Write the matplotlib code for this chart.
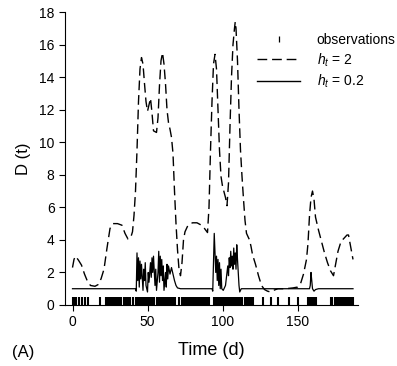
import numpy as np
import matplotlib
matplotlib.use('Agg')
import matplotlib.pyplot as plt
from matplotlib.lines import Line2D

plt.rcParams['font.family'] = ['Liberation Sans', 'DejaVu Sans']
plt.rcParams['mathtext.fontset'] = 'custom'
plt.rcParams['mathtext.it'] = 'Liberation Sans:italic'
plt.rcParams['mathtext.rm'] = 'Liberation Sans'

# h_t = 2 (dashed)
t_h2 = [0, 1, 2, 4, 6, 8, 10, 12, 15, 17, 19, 21, 23, 25, 27, 30, 33, 35, 37, 39,
        40, 41, 42, 43, 44, 45, 46, 47, 48, 49, 50, 51, 52, 53, 54, 56, 57, 58, 59, 60,
        61, 62, 63, 64, 65, 66, 67, 68, 69, 70, 71, 72, 73, 74, 75, 77, 80, 83, 86, 88,
        90, 91, 92, 93, 94, 95, 96, 97, 98, 99, 100, 102, 103, 104, 105, 106, 107, 108, 108.5, 109,
        110, 111, 112, 113, 114, 115, 116, 117, 118, 119, 120, 122, 124, 126, 128, 130, 132, 134, 137, 142,
        147, 150, 152, 154, 156, 157, 158, 159, 160, 161, 162, 164, 166, 168, 170, 172, 174, 175, 177, 179,
        181, 183, 184, 185, 186, 187]
d_h2 = [2.3, 2.8, 3.0, 2.75, 2.45, 1.9, 1.45, 1.2, 1.15, 1.25, 1.6, 2.2, 3.5, 4.7, 5.0, 5.0, 4.9, 4.4, 4.05, 4.2,
        4.5, 5.5, 7.0, 9.5, 12.5, 14.5, 15.2, 14.8, 13.6, 12.5, 11.9, 12.3, 12.7, 11.8, 10.7, 10.6, 11.5, 13.5, 15.0, 15.5,
        14.8, 13.6, 12.0, 11.2, 10.8, 10.3, 9.3, 7.0, 5.0, 3.4, 2.2, 1.8, 2.6, 4.0, 4.5, 4.9, 5.05, 5.05, 4.9, 4.7,
        4.45, 6.0, 9.5, 12.5, 14.8, 15.4, 14.5, 12.0, 9.5, 7.9, 7.3, 6.6, 6.1, 7.5, 11.0, 14.0, 16.0, 17.0, 17.4, 17.0,
        15.0, 12.0, 9.5, 7.9, 6.5, 5.2, 4.4, 4.2, 4.0, 3.6, 3.1, 2.5, 1.8, 1.2, 0.95, 0.85, 0.8, 0.9, 1.0, 1.0,
        1.05, 1.1, 1.3, 1.9, 2.8, 3.8, 5.5, 6.6, 7.0, 6.5, 5.4, 4.6, 3.9, 3.2, 2.6, 2.1, 1.8, 2.3, 3.3, 3.9,
        4.1, 4.3, 4.3, 3.8, 3.3, 2.8]

# h_t = 0.2 (solid)
t_h02 = [0, 42, 42.5, 43, 43.5, 44, 44.5, 45, 45.5, 46, 47, 47.5, 48, 48.5, 49, 50, 50.5, 51, 52, 52.5,
         53, 53.5, 54, 55, 55.5, 56, 57, 57.5, 58, 58.5, 59, 59.5, 60, 60.5, 61, 62, 62.5, 63, 63.5, 64,
         65, 66, 67, 68, 69, 70, 72, 93, 93.5, 94.5, 95.5, 96, 96.5, 97, 97.5, 98, 98.5, 99, 99.5, 100.5,
         101, 102, 103, 103.5, 104, 104.5, 105, 105.5, 106, 106.5, 107, 107.5, 108, 108.5, 109, 109.5, 110, 110.5, 111, 111.5,
         112.5, 158, 158.5, 159, 159.5, 160, 161, 162, 164, 187]
d_h02 = [1.0, 1.0, 0.85, 3.2, 1.5, 2.9, 1.1, 2.7, 1.6, 2.5, 0.9, 2.2, 1.5, 2.6, 1.2, 0.8, 2.0, 1.4, 2.6, 1.7,
         2.9, 2.0, 3.0, 1.2, 2.2, 0.9, 2.0, 3.3, 1.4, 3.0, 1.8, 2.8, 1.5, 2.4, 0.9, 2.0, 1.1, 2.5, 1.6, 2.4,
         1.9, 2.3, 1.9, 1.5, 1.2, 1.05, 1.0, 1.0, 0.85, 4.4, 2.0, 3.0, 1.5, 2.8, 1.2, 2.6, 1.0, 2.2, 1.0, 0.9,
         1.0, 1.2, 2.0, 2.4, 1.8, 2.9, 2.3, 3.3, 2.4, 3.0, 2.2, 3.5, 2.5, 3.2, 2.2, 3.7, 2.8, 2.0, 1.2, 0.8,
         1.0, 1.0, 1.2, 2.0, 1.5, 1.0, 0.85, 0.95, 1.0, 1.0]

# observation days (rug)
obs = [0, 1, 2, 4, 6, 8, 10, 18,
       22, 23, 24, 25, 26, 27, 28, 29, 30, 31, 32, 34, 35, 36, 37, 38, 40,
       42, 43, 44, 45, 46, 47, 48, 49, 50, 51, 52, 53, 54,
       56, 57, 58, 59, 60, 61, 62, 63, 64, 65, 66, 67, 68, 71,
       73, 74, 75, 76, 77, 78, 79, 80, 81, 82, 83, 84, 85, 86, 87, 88, 89, 90, 91,
       94, 95, 96, 97, 98, 99, 100, 101, 102, 103, 104, 105, 106, 107, 108, 109, 110,
       111, 112, 113, 115, 116, 117, 118, 119, 120,
       127, 132, 137, 144, 150, 157, 158, 159, 160, 161, 162,
       172, 173, 175, 176, 177, 178, 179, 180, 181, 182, 183, 184, 185, 186, 187]

fig = plt.figure(figsize=(3.97, 3.66), dpi=100)
ax = fig.add_axes([65 / 397, 61 / 366, 292.5 / 397, 293 / 366])

ax.plot(t_h2, d_h2, color='black', lw=1.0, dashes=(7, 3.5))
ax.plot(t_h02, d_h02, color='black', lw=0.9)
ax.vlines(obs, 0, 0.5, color='black', lw=1.5)

ax.set_xlim(-5, 190)
ax.set_ylim(0, 18)
ax.set_xticks([0, 50, 100, 150])
ax.set_yticks(np.arange(0, 19, 2))
ax.spines['top'].set_visible(False)
ax.spines['right'].set_visible(False)
ax.tick_params(labelsize=10, length=4, width=0.8)
ax.set_ylabel('D (t)', fontsize=12, labelpad=6)
ax.set_xlabel('Time (d)', fontsize=13, labelpad=9)
fig.text(12 / 397, 1 - 352 / 366, '(A)', fontsize=12, ha='left', va='center')

handles = [Line2D([], [], color='black', marker='|', ls='none', markersize=4, markeredgewidth=0.9),
           Line2D([], [], color='black', lw=1.0, dashes=(7, 3.5)),
           Line2D([], [], color='black', lw=1.0)]
labels = ['observations', r'$h_t$ = 2', r'$h_t$ = 0.2']
fig.legend(handles, labels, loc='upper left', bbox_to_anchor=(257 / 397, 1 - 33 / 366),
           frameon=False, fontsize=10, handlelength=3.1, handletextpad=1.2,
           labelspacing=0.3, borderaxespad=0, borderpad=0)

fig.savefig('out.png', dpi=100)
